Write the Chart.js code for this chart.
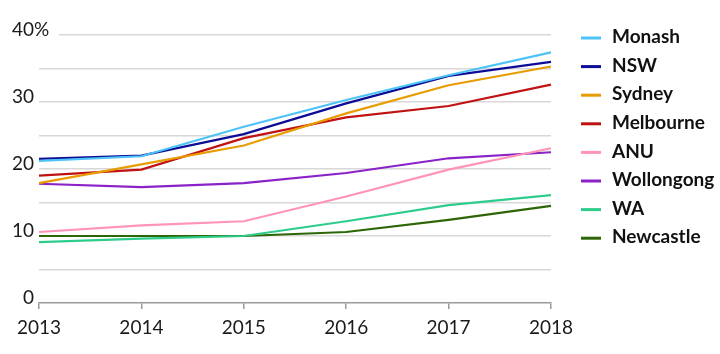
<!DOCTYPE html>
<html>
<head>
<meta charset="utf-8">
<script src="https://cdn.jsdelivr.net/npm/chart.js@4/dist/chart.umd.min.js"></script>
<style>
  html, body { margin: 0; padding: 0; background: #fff; }
  #wrap { width: 720px; height: 354px; position: relative; }
</style>
</head>
<body>
<div id="wrap"><canvas id="uni-line-chart"></canvas></div>
<script>
// years on the x axis
var years = ['2013', '2014', '2015', '2016', '2017', '2018'];
var yTickLabels = [0, 10, 20, 30, 40];

// share (%) per university
var monash     = [21.2, 21.9, 26.3, 30.3, 34.0, 37.4];
var nsw        = [21.5, 22.0, 25.2, 29.8, 33.9, 36.0];
var sydney     = [17.9, 20.7, 23.5, 28.3, 32.5, 35.3];
var melbourne  = [19.0, 19.9, 24.6, 27.7, 29.4, 32.6];
var anu        = [10.6, 11.6, 12.2, 15.9, 19.9, 23.1];
var wollongong = [17.8, 17.3, 17.9, 19.4, 21.6, 22.5];
var wa         = [9.1, 9.6, 10.0, 12.2, 14.6, 16.1];
var newcastle  = [10.0, 10.0, 10.0, 10.6, 12.4, 14.5];

var seriesNames  = ['Monash', 'NSW', 'Sydney', 'Melbourne', 'ANU', 'Wollongong', 'WA', 'Newcastle'];
var seriesValues = [monash, nsw, sydney, melbourne, anu, wollongong, wa, newcastle];
var seriesColors = ['#4dc3f7', '#0c0c96', '#e99c00', '#c01212', '#ff94b4', '#8a22c8', '#2ecc8a', '#2d6606'];

var fontFamily = 'Lato, "Noto Sans", sans-serif';

var datasets = seriesNames.map(function(name, i) {
    return {
        label: name,
        data: seriesValues[i],
        borderColor: seriesColors[i],
        backgroundColor: seriesColors[i],
        borderWidth: 2.2,
        pointRadius: 0,
        tension: 0,
        fill: false,
        clip: false
    };
});

// y labels drawn by hand so "40%" can hang past the axis, plus the legend
var extrasPlugin = {
    id: 'extras',
    beforeDatasetsDraw: function(chart) {
        var ctx = chart.ctx, area = chart.chartArea;
        var y40 = chart.scales.y.getPixelForValue(40);
        ctx.save();
        ctx.fillStyle = '#fff';
        ctx.fillRect(area.left - 1, y40 - 3, 21, 6);
        ctx.restore();
    },
    afterDraw: function(chart) {
        var ctx = chart.ctx, area = chart.chartArea, yScale = chart.scales.y;
        ctx.save();
        ctx.font = '19px ' + fontFamily;
        ctx.fillStyle = '#1a1a1a';
        ctx.textBaseline = 'alphabetic';
        yTickLabels.forEach(function(v) {
            var y = yScale.getPixelForValue(v);
            ctx.textAlign = 'right';
            ctx.fillText(String(v), area.left - 5, y + 1);
            if (v === 40) {
                ctx.textAlign = 'left';
                ctx.fillText('%', area.left - 5, y + 1);
            }
        });

        ctx.font = 'bold 19px ' + fontFamily;
        ctx.textBaseline = 'middle';
        ctx.textAlign = 'left';
        chart.data.datasets.forEach(function(ds, i) {
            var y = area.top + 3 + i * 28.6;
            ctx.strokeStyle = ds.borderColor;
            ctx.lineWidth = 3;
            ctx.beginPath();
            ctx.moveTo(area.right + 30, y);
            ctx.lineTo(area.right + 50, y);
            ctx.stroke();
            ctx.fillStyle = '#111';
            ctx.fillText(ds.label, area.right + 61, y - 1);
        });
        ctx.restore();
    }
};

var line_config = {
    type: 'line',
    data: { labels: years, datasets: datasets },
    options: {
        responsive: true,
        maintainAspectRatio: false,
        animation: false,
        layout: { padding: { top: 35, right: 169, left: 0, bottom: 0 } },
        plugins: { legend: { display: false }, tooltip: { enabled: false } },
        scales: {
            x: {
                offset: false,
                grid: { drawOnChartArea: false, drawTicks: true, tickLength: 6, color: '#9a9a9a', lineWidth: 1.5 },
                border: { display: true, color: '#9a9a9a', width: 1.5 },
                ticks: { color: '#1a1a1a', font: { family: fontFamily, size: 19 }, padding: 7, maxRotation: 0, autoSkip: false },
                afterFit: function(scale) { scale.height = 51; }
            },
            y: {
                min: 0,
                max: 40,
                ticks: { display: false, stepSize: 5 },
                grid: {
                    drawTicks: false,
                    lineWidth: 1.5,
                    color: function(c) { return c.tick && c.tick.value === 0 ? 'rgba(0,0,0,0)' : '#d8d8d8'; }
                },
                border: { display: false },
                afterFit: function(scale) { scale.width = 39; }
            }
        }
    },
    plugins: [extrasPlugin]
};

window.onload = function() {
    var line_ctx = document.getElementById('uni-line-chart').getContext('2d');
    window.uniLine = new Chart(line_ctx, line_config);
};
</script>
</body>
</html>
